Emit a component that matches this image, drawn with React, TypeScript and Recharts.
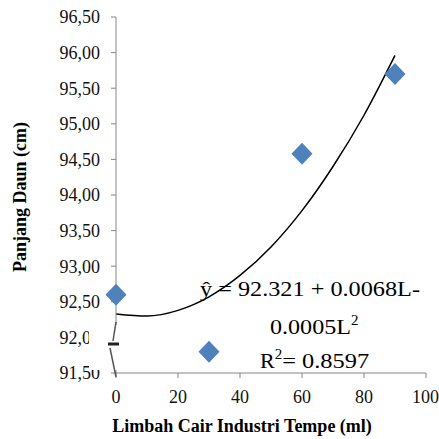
import { ComposedChart, Line, Scatter, XAxis, YAxis } from "recharts";

const doses = [0, 30, 60, 90];
const leafLength = [92.6, 91.8, 94.58, 95.7];

// quadratic trend curve, every 10 ml
const trendDoses = [0, 10, 20, 30, 40, 50, 60, 70, 80, 90];
const trendLength = [92.33, 92.3, 92.38, 92.57, 92.87, 93.27, 93.78, 94.4, 95.12, 95.96];

const xTicks = [0, 20, 40, 60, 80, 100];
const yTicks = [91.5, 92, 92.5, 93, 93.5, 94, 94.5, 95, 95.5, 96, 96.5];

const points = doses.map((x, i) => ({ x, y: leafLength[i] }));
const trend = trendDoses.map((x, i) => ({ x, y: trendLength[i] }));

const serif = "Liberation Serif, Tinos, Times New Roman, DejaVu Serif, serif";
const axisGray = "#868686";

const Diamond = (props: any) => {
  const { cx, cy } = props;
  return (
    <polygon
      points={`${cx},${cy - 11} ${cx + 10.5},${cy} ${cx},${cy + 11} ${cx - 10.5},${cy}`}
      fill="#4F81BD"
    />
  );
};

export default function App() {
  return (
    <div
      style={{
        position: "absolute",
        left: 0,
        top: 0,
        width: 439,
        height: 439,
        background: "#fff",
        fontFamily: serif,
      }}
    >
      <ComposedChart width={439} height={439} margin={{ top: 17, right: 13, bottom: 36, left: 56 }}>
        <XAxis
          dataKey="x"
          type="number"
          domain={[0, 100]}
          ticks={xTicks}
          height={30}
          tickSize={5}
          tickMargin={12}
          axisLine={{ stroke: axisGray }}
          tickLine={{ stroke: axisGray }}
          tick={{ fill: "#111", fontSize: 18, fontFamily: serif }}
        />
        <YAxis
          type="number"
          domain={[91.5, 96.5]}
          ticks={yTicks}
          width={60}
          tickSize={5}
          tickMargin={11}
          axisLine={{ stroke: axisGray }}
          tickLine={{ stroke: axisGray }}
          tick={{ fill: "#111", fontSize: 18, fontFamily: serif }}
          tickFormatter={(v: number) => v.toFixed(2).replace(".", ",")}
        />
        <Scatter data={points} dataKey="y" shape={Diamond} isAnimationActive={false} />
        <Line
          data={trend}
          dataKey="y"
          type="monotone"
          stroke="#000"
          strokeWidth={1.5}
          dot={false}
          activeDot={false}
          isAnimationActive={false}
        />
      </ComposedChart>
      <svg
        width={439}
        height={439}
        style={{ position: "absolute", left: 0, top: 0, pointerEvents: "none", fontFamily: serif }}
      >
        {/* axis break */}
        <rect x={89} y={325} width={32} height={45} fill="#fff" />
        <polyline points="116,322 113,341" fill="none" stroke="#555" strokeWidth={1.5} />
        <line x1={108} y1={344} x2={119} y2={344} stroke="#222" strokeWidth={3} />
        <polyline points="110,348 116,377" fill="none" stroke="#555" strokeWidth={1.5} />

        <text x={200} y={296} fontSize={22} fill="#000" textLength={220} lengthAdjust="spacingAndGlyphs">
          ŷ = 92.321 + 0.0068L-
        </text>
        <text x={270} y={334} fontSize={22} fill="#000">
          <tspan textLength={81} lengthAdjust="spacingAndGlyphs">0.0005L</tspan>
          <tspan dy={-9} fontSize={15}>2</tspan>
        </text>
        <text x={260} y={368} fontSize={22} fill="#000">
          R<tspan dy={-9} fontSize={15}>2</tspan>
          <tspan dy={9} textLength={87} lengthAdjust="spacingAndGlyphs">= 0.8597</tspan>
        </text>

        <text
          x={20}
          y={197}
          fontSize={18}
          fontWeight="bold"
          textAnchor="middle"
          dominantBaseline="central"
          transform="rotate(-90 20 197)"
          fill="#000"
        >
          Panjang Daun (cm)
        </text>
        <text x={242} y={432} fontSize={18} fontWeight="bold" textAnchor="middle" fill="#000">
          Limbah Cair Industri Tempe (ml)
        </text>
      </svg>
    </div>
  );
}
